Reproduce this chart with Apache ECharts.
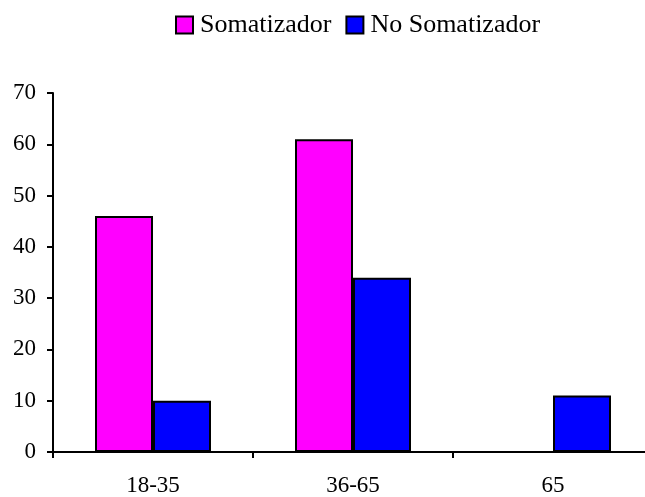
<!DOCTYPE html>
<html>
<head>
<meta charset="utf-8">
<script src="https://cdn.jsdelivr.net/npm/echarts@6/dist/echarts.min.js"></script>
<style>
  html, body { margin: 0; padding: 0; background: #fff; overflow: hidden; }
  /* the plot runs a little past the right edge of the window, as in the original */
  #chart { width: 653px; height: 497px; }
</style>
</head>
<body>
<div id="chart"></div>
<script>
const categories = ["18-35", "36-65", "65"];
const somatizador = [46, 61, 0];
const noSomatizador = [10, 34, 11];
const seriesNames = ["Somatizador", "No Somatizador"];

const chart = echarts.init(document.getElementById("chart"));
const font = "'Liberation Serif', 'Times New Roman', serif";

chart.setOption({
  animation: false,
  backgroundColor: "#fff",
  textStyle: { fontFamily: font },
  legend: {
    top: 7,
    left: 170,
    itemWidth: 17,
    itemHeight: 17,
    itemGap: 14,
    icon: "rect",
    textStyle: { fontFamily: font, fontSize: 26, color: "#000", padding: [0, 0, 0, 2] },
    data: seriesNames
  },
  grid: { left: 53, right: 0, top: 93, bottom: 45 },
  xAxis: {
    type: "category",
    data: categories,
    axisLine: { lineStyle: { color: "#000", width: 2 } },
    axisTick: { show: true, length: 6, lineStyle: { color: "#000", width: 2 } },
    axisLabel: { color: "#000", fontSize: 23, margin: 22, fontFamily: font }
  },
  yAxis: {
    type: "value",
    min: 0,
    max: 70,
    interval: 10,
    splitLine: { show: false },
    axisLine: { show: true, lineStyle: { color: "#000", width: 2 } },
    axisTick: { show: true, length: 6, lineStyle: { color: "#000", width: 2 } },
    axisLabel: { color: "#000", fontSize: 23, margin: 17, fontFamily: font }
  },
  series: [
    {
      name: seriesNames[0],
      type: "bar",
      data: somatizador,
      barGap: "0%",
      barCategoryGap: "42%",
      itemStyle: { color: "#FF00FF", borderColor: "#000", borderWidth: 2 }
    },
    {
      name: seriesNames[1],
      type: "bar",
      data: noSomatizador,
      barGap: "0%",
      barCategoryGap: "42%",
      itemStyle: { color: "#0000FF", borderColor: "#000", borderWidth: 2 }
    }
  ]
});
</script>
</body>
</html>
